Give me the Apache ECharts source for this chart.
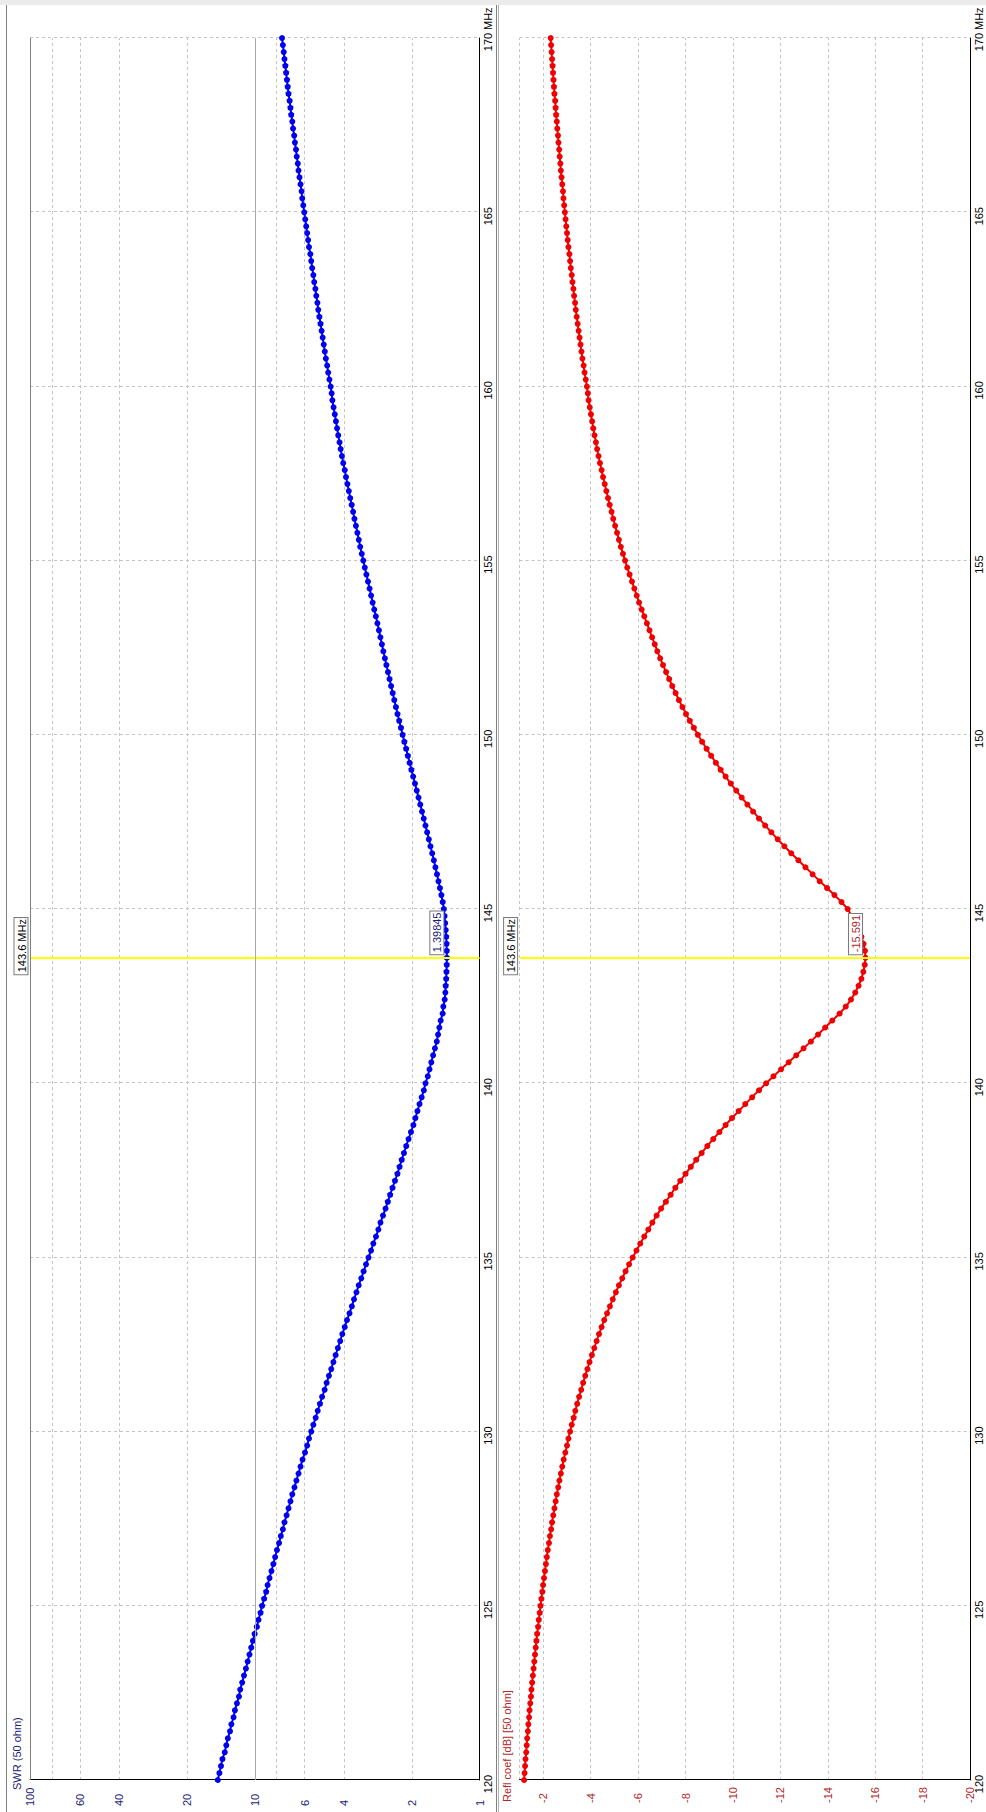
<!DOCTYPE html>
<html><head><meta charset="utf-8">
<script src="https://cdn.jsdelivr.net/npm/echarts@6/dist/echarts.min.js"></script>
<style>
html,body{margin:0;padding:0;width:986px;height:1812px;overflow:hidden;background:#fff;}
#wrap{position:absolute;left:0;top:0;width:1812px;height:986px;transform-origin:0 0;transform:translate(0,1812px) rotate(-90deg);}
#chart{width:1812px;height:986px;}
</style></head><body>
<div id="wrap"><div id="chart"></div></div>
<script>
// Frequency sweep (MHz)
const freqs = [
120,120.2,120.4,120.6,120.8,121,121.2,121.4,121.6,121.8,122,122.2,122.4,122.6,122.8,123,123.2,123.4,123.6,123.8,
124,124.2,124.4,124.6,124.8,125,125.2,125.4,125.6,125.8,126,126.2,126.4,126.6,126.8,127,127.2,127.4,127.6,127.8,
128,128.2,128.4,128.6,128.8,129,129.2,129.4,129.6,129.8,130,130.2,130.4,130.6,130.8,131,131.2,131.4,131.6,131.8,
132,132.2,132.4,132.6,132.8,133,133.2,133.4,133.6,133.8,134,134.2,134.4,134.6,134.8,135,135.2,135.4,135.6,135.8,
136,136.2,136.4,136.6,136.8,137,137.2,137.4,137.6,137.8,138,138.2,138.4,138.6,138.8,139,139.2,139.4,139.6,139.8,
140,140.2,140.4,140.6,140.8,141,141.2,141.4,141.6,141.8,142,142.2,142.4,142.6,142.8,143,143.2,143.4,143.6,143.8,
144,144.2,144.4,144.6,144.8,145,145.2,145.4,145.6,145.8,146,146.2,146.4,146.6,146.8,147,147.2,147.4,147.6,147.8,
148,148.2,148.4,148.6,148.8,149,149.2,149.4,149.6,149.8,150,150.2,150.4,150.6,150.8,151,151.2,151.4,151.6,151.8,
152,152.2,152.4,152.6,152.8,153,153.2,153.4,153.6,153.8,154,154.2,154.4,154.6,154.8,155,155.2,155.4,155.6,155.8,
156,156.2,156.4,156.6,156.8,157,157.2,157.4,157.6,157.8,158,158.2,158.4,158.6,158.8,159,159.2,159.4,159.6,159.8,
160,160.2,160.4,160.6,160.8,161,161.2,161.4,161.6,161.8,162,162.2,162.4,162.6,162.8,163,163.2,163.4,163.6,163.8,
164,164.2,164.4,164.6,164.8,165,165.2,165.4,165.6,165.8,166,166.2,166.4,166.6,166.8,167,167.2,167.4,167.6,167.8,
168,168.2,168.4,168.6,168.8,169,169.2,169.4,169.6,169.8,170];

// SWR (50 ohm)
const swr = [
14.61,14.37,14.14,13.93,13.60, 13.39,13.18,12.89,12.71,12.43,
12.26,12.01,11.76,11.61,11.38, 11.17,10.95,10.76,10.56,10.37,
10.19,10.02,9.79,9.63,9.43, 9.28,9.09,8.90,8.77,8.60,
8.43,8.27,8.12,7.97,7.80, 7.66,7.50,7.38,7.22,7.08,
6.94,6.81,6.66,6.53,6.39, 6.26,6.13,5.98,5.85,5.74,
5.61,5.49,5.36,5.25,5.13, 5.02,4.89,4.79,4.68,4.57,
4.47,4.37,4.27,4.17,4.08, 3.98,3.89,3.79,3.70,3.62,
3.53,3.45,3.36,3.28,3.20, 3.12,3.04,2.97,2.89,2.82,
2.76,2.69,2.62,2.56,2.50, 2.44,2.38,2.32,2.27,2.22,
2.17,2.12,2.07,2.02,1.97, 1.93,1.89,1.85,1.81,1.77,
1.74,1.70,1.67,1.64,1.61, 1.58,1.55,1.53,1.51,1.49,
1.46,1.45,1.43,1.42,1.415, 1.408,1.404,1.400,1.39845,1.400,
1.403,1.408,1.415,1.423,1.432, 1.442,1.459,1.479,1.501,1.524,
1.547,1.572,1.598,1.625,1.654, 1.682,1.711,1.741,1.772,1.804,
1.836,1.869,1.904,1.939,1.975, 2.011,2.047,2.085,2.122,2.161,
2.200,2.238,2.278,2.318,2.356, 2.396,2.435,2.476,2.515,2.556,
2.598,2.638,2.681,2.720,2.762, 2.804,2.848,2.894,2.942,2.991,
3.038,3.086,3.136,3.188,3.241, 3.291,3.343,3.397,3.446,3.497,
3.550,3.604,3.653,3.707,3.763, 3.817,3.872,3.930,3.980,4.042,
4.096,4.151,4.198,4.255,4.305, 4.356,4.408,4.463,4.517,4.551,
4.598,4.656,4.716,4.765,4.829, 4.881,4.935,4.990,5.044,5.101,
5.160,5.219,5.266,5.327,5.376, 5.441,5.49,5.557,5.61,5.662,
5.74,5.791,5.85,5.906,5.966, 6.025,6.087,6.151,6.192,6.26,
6.326,6.39,6.438,6.508,6.556, 6.631,6.680,6.758,6.81,6.886,
6.94,7.00,7.08,7.137,7.193, 7.254,7.313,7.38,7.435,7.50,
7.565];

// Reflection coefficient [dB]
const refl = [
-1.19,-1.21,-1.23,-1.25,-1.28, -1.30,-1.32,-1.35,-1.37,-1.40,
-1.42,-1.45,-1.48,-1.50,-1.53, -1.56,-1.59,-1.62,-1.65,-1.68,
-1.71,-1.74,-1.78,-1.81,-1.85, -1.88,-1.92,-1.96,-1.99,-2.03,
-2.07,-2.11,-2.15,-2.19,-2.24, -2.28,-2.33,-2.37,-2.42,-2.47,
-2.52,-2.57,-2.63,-2.68,-2.74, -2.80,-2.86,-2.93,-3.00,-3.06,
-3.13,-3.20,-3.28,-3.35,-3.43, -3.51,-3.60,-3.68,-3.77,-3.86,
-3.95,-4.05,-4.15,-4.25,-4.35, -4.46,-4.57,-4.69,-4.81,-4.93,
-5.06,-5.19,-5.33,-5.47,-5.62, -5.77,-5.93,-6.09,-6.26,-6.43,
-6.60,-6.78,-6.97,-7.17,-7.37, -7.57,-7.78,-8.00,-8.22,-8.45,
-8.68,-8.92,-9.17,-9.43,-9.69, -9.96,-10.24,-10.52,-10.81,-11.10,
-11.40,-11.71,-12.03,-12.35,-12.67, -12.98,-13.29,-13.59,-13.89,-14.19,
-14.50,-14.76,-14.98,-15.16,-15.30, -15.42,-15.50,-15.56,-15.591,-15.57,
-15.51,-15.42,-15.30,-15.16,-15.01, -14.84,-14.58,-14.28,-13.97,-13.66,
-13.36,-13.06,-12.76,-12.46,-12.17, -11.89,-11.62,-11.36,-11.10,-10.85,
-10.61,-10.37,-10.14,-9.91,-9.69, -9.48,-9.28,-9.08,-8.89,-8.70,
-8.52,-8.35,-8.18,-8.02,-7.87, -7.72,-7.58,-7.44,-7.31,-7.18,
-7.05,-6.93,-6.81,-6.70,-6.59, -6.48,-6.37,-6.26,-6.15,-6.04,
-5.94,-5.84,-5.74,-5.64,-5.54, -5.45,-5.36,-5.27,-5.19,-5.11,
-5.03,-4.95,-4.88,-4.80,-4.73, -4.66,-4.59,-4.52,-4.46,-4.39,
-4.33,-4.27,-4.22,-4.16,-4.11, -4.06,-4.01,-3.96,-3.91,-3.88,
-3.84,-3.79,-3.74,-3.70,-3.65, -3.61,-3.57,-3.53,-3.49,-3.45,
-3.41,-3.37,-3.34,-3.30,-3.27, -3.23,-3.20,-3.16,-3.13,-3.10,
-3.06,-3.03,-3.00,-2.97,-2.94, -2.91,-2.88,-2.85,-2.83,-2.80,
-2.77,-2.74,-2.72,-2.69,-2.67, -2.64,-2.62,-2.59,-2.57,-2.54,
-2.52,-2.50,-2.47,-2.45,-2.43, -2.41,-2.39,-2.37,-2.35,-2.33,
-2.31];

// Axis tick labels
const swrTickLabels = [1, 2, 4, 6, 10, 20, 40, 60, 100];
const swrGridValues = [1, 2, 4, 6, 8, 10, 20, 40, 60, 80, 100];
const freqRange = [120, 170];
const freqStep = 5;
const reflRange = [-20, -1];
const reflStep = 2;

// Marker
const markerFreq = 143.6;
const markerSwr = 1.39845;
const markerRefl = -15.591;
const markerFreqText = '143.6 MHz';
const swrName = 'SWR (50 ohm)';
const reflName = 'Refl coef [dB] [50 ohm]';

const FONT = '"Liberation Sans", Arial, sans-serif';
const SWR_COLOR = '#0000f0';
const REFL_COLOR = '#f00000';
const SWR_TEXT = '#1c1c78';
const REFL_TEXT = '#b02828';
const GRID_LINE = {color: '#c4c4c4', type: [3, 3], width: 1};

const chart = echarts.init(document.getElementById('chart'), null, {renderer: 'svg', width: 1812, height: 986});

function xAxisFor(gi) {
  return {
    type: 'value', gridIndex: gi, min: freqRange[0], max: freqRange[1], interval: freqStep,
    axisLine: {show: true, onZero: false, lineStyle: {color: '#000', width: 1}},
    axisTick: {show: false},
    axisLabel: {color: '#000', fontSize: 11, fontFamily: FONT, margin: 2, lineHeight: 13,
      padding: [0, 8, 0, 0], showMinLabel: true, showMaxLabel: true, hideOverlap: false},
    splitLine: {show: true, lineStyle: GRID_LINE},
    name: 'MHz', nameLocation: 'end', nameGap: 8, nameMoveOverlap: false,
    nameTextStyle: {color: '#000', fontSize: 11, fontFamily: FONT, align: 'left', verticalAlign: 'top',
      lineHeight: 13, padding: [2, 0, 0, 0]}
  };
}

function boxLabel(text, color, pos) {
  return {show: true, formatter: text, position: pos, align: 'left', verticalAlign: 'bottom',
    color: color, fontSize: 11, fontFamily: FONT, lineHeight: 12,
    backgroundColor: '#ffffff', borderColor: '#7a7a7a', borderWidth: 1, padding: [1, 1, 0, 2]};
}

const option = {
  animation: false,
  backgroundColor: '#ffffff',
  grid: [
    {left: 32, right: 38, top: 30, height: 449.6, containLabel: false, outerBoundsMode: 'none'},
    {left: 32, right: 38, top: 519.6, height: 450.4, containLabel: false, outerBoundsMode: 'none'}
  ],
  xAxis: [xAxisFor(0), xAxisFor(1)],
  yAxis: [
    {type: 'log', gridIndex: 0, logBase: 10, min: 1, max: 100,
      axisLine: {show: true, lineStyle: {color: '#000', width: 1}},
      axisTick: {show: false, customValues: swrGridValues},
      axisLabel: {customValues: swrTickLabels, color: SWR_TEXT, fontSize: 11, fontFamily: FONT,
        align: 'left', margin: 26, showMinLabel: true, showMaxLabel: true, hideOverlap: false,
        formatter: v => String(Math.round(v))},
      splitLine: {show: true, lineStyle: GRID_LINE}
    },
    {type: 'value', gridIndex: 1, min: reflRange[0], max: reflRange[1], interval: reflStep,
      axisLine: {show: true, lineStyle: {color: '#000', width: 1}},
      axisTick: {show: false},
      axisLabel: {color: REFL_TEXT, fontSize: 11, fontFamily: FONT, align: 'left', margin: 23,
        showMinLabel: true, showMaxLabel: false, hideOverlap: false,
        formatter: v => (v === -1 ? '' : String(v))},
      splitLine: {show: true, lineStyle: GRID_LINE}
    }
  ],
  series: [
    {
      name: swrName, type: 'line', xAxisIndex: 0, yAxisIndex: 0,
      data: freqs.map((f, i) => [f, swr[i]]),
      symbol: 'circle', symbolSize: 6, showSymbol: true,
      lineStyle: {color: SWR_COLOR, width: 2}, itemStyle: {color: SWR_COLOR},
      emphasis: {disabled: true}, silent: true, z: 3,
      markLine: {silent: true, symbol: ['none', 'none'], label: {show: false}, emphasis: {disabled: true},
        data: [
          {xAxis: markerFreq, lineStyle: {color: '#ffff00', width: 2, type: 'solid'}},
          {yAxis: 10, lineStyle: {color: '#a8a8a8', width: 1, type: 'solid'}},
          {yAxis: 100, lineStyle: {color: '#808080', width: 1, type: 'solid'}}
        ]},
      markPoint: {silent: true, symbol: 'circle', symbolSize: 1, itemStyle: {color: 'rgba(0,0,0,0)'},
        emphasis: {disabled: true},
        data: [
          {coord: [markerFreq, markerSwr], label: boxLabel(String(markerSwr), SWR_TEXT, [4, -3])},
          {coord: [markerFreq, 100], label: boxLabel(markerFreqText, '#000', [-16, -2])}
        ]}
    },
    {
      name: reflName, type: 'line', xAxisIndex: 1, yAxisIndex: 1,
      data: freqs.map((f, i) => [f, refl[i]]),
      symbol: 'circle', symbolSize: 6, showSymbol: true,
      lineStyle: {color: REFL_COLOR, width: 2}, itemStyle: {color: REFL_COLOR},
      emphasis: {disabled: true}, silent: true, z: 3,
      markLine: {silent: true, symbol: ['none', 'none'], label: {show: false}, emphasis: {disabled: true},
        data: [
          {xAxis: markerFreq, lineStyle: {color: '#ffff00', width: 2, type: 'solid'}}
        ]},
      markPoint: {silent: true, symbol: 'circle', symbolSize: 1, itemStyle: {color: 'rgba(0,0,0,0)'},
        emphasis: {disabled: true},
        data: [
          {coord: [markerFreq, markerRefl], label: boxLabel(String(markerRefl), REFL_TEXT, [4, -3])},
          {coord: [markerFreq, reflRange[1]], label: boxLabel(markerFreqText, '#000', [-16, -2])}
        ]}
    }
  ],
  graphic: [
    {type: 'rect', silent: true, shape: {x: 1807, y: 0, width: 5, height: 986}, style: {fill: '#ececec'}},
    {type: 'line', silent: true, shape: {x1: 0, y1: 6.5, x2: 1807, y2: 6.5}, style: {stroke: '#808080', lineWidth: 1}},
    {type: 'line', silent: true, shape: {x1: 0, y1: 496.5, x2: 1807, y2: 496.5}, style: {stroke: '#808080', lineWidth: 1}},
    {type: 'line', silent: true, shape: {x1: 0, y1: 498.5, x2: 1807, y2: 498.5}, style: {stroke: '#b0b0b0', lineWidth: 1}},
    {type: 'text', silent: true, x: 22, y: 17, style: {text: swrName, fill: SWR_TEXT, font: '11px ' + FONT,
      textAlign: 'left', textVerticalAlign: 'middle', align: 'left', verticalAlign: 'middle'}},
    {type: 'text', silent: true, x: 10, y: 507, style: {text: reflName, fill: REFL_TEXT, font: '11px ' + FONT,
      textAlign: 'left', textVerticalAlign: 'middle', align: 'left', verticalAlign: 'middle'}}
  ]
};
chart.setOption(option);
</script>
</body></html>
